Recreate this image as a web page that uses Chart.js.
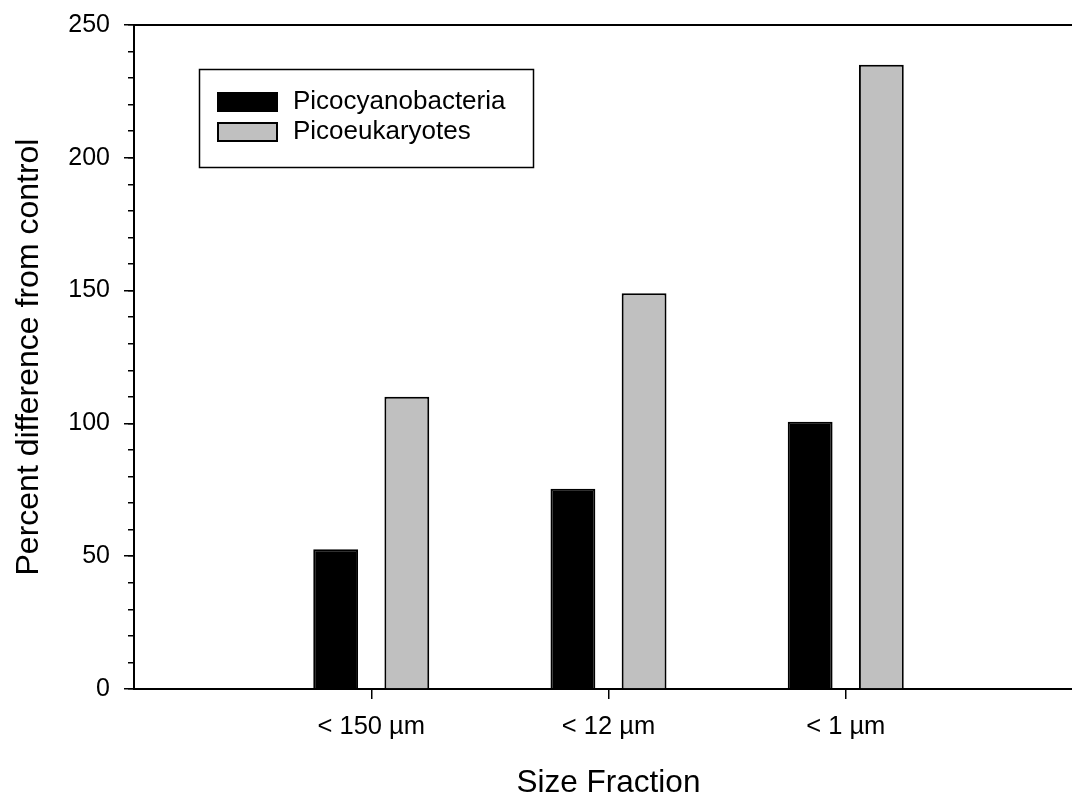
<!DOCTYPE html>
<html>
<head>
<meta charset="utf-8">
<script src="https://cdn.jsdelivr.net/npm/chart.js@4/dist/chart.umd.min.js"></script>
<style>
  html, body { margin: 0; padding: 0; background: #fff; overflow: hidden; }
  #wrap { width: 1100px; height: 796px; }
</style>
</head>
<body>
<div id="wrap"><canvas id="chart" width="1100" height="796"></canvas></div>
<script>
// Size fractions along the x axis
const sizeLabels = ['< 150 µm', '< 12 µm', '< 1 µm'];

// Percent difference from control for each group
const picocyanobacteria = [52.6, 75.4, 100.6];
const picoeukaryotes = [110, 149, 235];

const seriesNames = ['Picocyanobacteria', 'Picoeukaryotes'];

const FONT = "Arial, 'Liberation Sans', Helvetica, sans-serif";

// Category positions on the linear x axis (1, 2, 3, ...)
const toPoints = vals => vals.map((v, i) => ({ x: i + 1, y: v }));

// Boxed legend drawn inside the plot area
const boxedLegend = {
  id: 'boxedLegend',
  afterDraw(chart) {
    const { ctx, chartArea } = chart;
    const x0 = chartArea.left + 65;
    const y0 = chartArea.top + 44;
    ctx.save();
    ctx.strokeStyle = '#000';
    ctx.lineWidth = 1.5;
    ctx.strokeRect(x0 + 0.5, y0 + 0.5, 334, 98);
    chart.data.datasets.forEach((ds, i) => {
      const sy = y0 + 23 + i * 30;
      ctx.fillStyle = ds.backgroundColor;
      ctx.fillRect(x0 + 18, sy, 61, 20);
      ctx.lineWidth = 2;
      ctx.strokeStyle = '#000';
      ctx.strokeRect(x0 + 19, sy + 1, 59, 18);
      ctx.fillStyle = '#000';
      ctx.font = '26px ' + FONT;
      ctx.textBaseline = 'middle';
      ctx.textAlign = 'left';
      ctx.fillText(ds.label, x0 + 94, sy + 10);
    });
    ctx.restore();
  }
};

new Chart(document.getElementById('chart'), {
  type: 'bar',
  data: {
    datasets: [
      {
        label: seriesNames[0],
        data: toPoints(picocyanobacteria),
        backgroundColor: '#000000',
        borderColor: '#000000',
        borderWidth: 2,
        categoryPercentage: 0.6,
        barPercentage: 0.63
      },
      {
        label: seriesNames[1],
        data: toPoints(picoeukaryotes),
        backgroundColor: '#c0c0c0',
        borderColor: '#000000',
        borderWidth: 2,
        categoryPercentage: 0.6,
        barPercentage: 0.63
      }
    ]
  },
  options: {
    responsive: false,
    animation: false,
    devicePixelRatio: 1,
    layout: { padding: { left: 0, top: 25, right: 17, bottom: 0 } },
    plugins: {
      legend: { display: false },
      tooltip: { enabled: false }
    },
    scales: {
      x: {
        type: 'linear',
        position: 'bottom',
        min: 0,
        max: 4,
        offset: false,
        afterBuildTicks: s => { s.ticks = sizeLabels.map((_, i) => ({ value: i + 1 })); },
        afterFit: s => { s.height = 107; },
        grid: { offset: false, drawOnChartArea: false, color: '#000', lineWidth: 1.5, tickLength: 10 },
        border: { display: true, color: '#000', width: 2 },
        ticks: {
          color: '#000',
          font: { family: FONT, size: 25.5 },
          padding: 13,
          maxRotation: 0,
          autoSkip: false,
          callback: v => sizeLabels[v - 1] ?? ''
        },
        title: {
          display: true,
          text: 'Size Fraction',
          color: '#000',
          font: { family: FONT, size: 31.5, lineHeight: 0.8 },
          padding: { top: 0, bottom: 0 }
        }
      },
      xTop: {
        type: 'linear',
        position: 'top',
        min: 0,
        max: 4,
        offset: false,
        afterFit: s => { s.height = 0; },
        grid: { display: false },
        ticks: { display: false },
        border: { display: true, color: '#000', width: 2 }
      },
      y: {
        position: 'left',
        weight: 1,
        min: 0,
        max: 250,
        afterFit: s => { s.width = 134; },
        grid: { drawOnChartArea: false, color: '#000', lineWidth: 1.5, tickLength: 10 },
        border: { display: true, color: '#000', width: 2 },
        ticks: {
          stepSize: 50,
          color: '#000',
          font: { family: FONT, size: 25, lineHeight: 0.8 },
          padding: 14
        },
        title: {
          display: true,
          text: 'Percent difference from control',
          color: '#000',
          font: { family: FONT, size: 32, lineHeight: 0.8 },
          padding: { top: 16, bottom: 0 }
        }
      },
      yMinor: {
        position: 'left',
        weight: 0,
        min: 0,
        max: 250,
        afterFit: s => { s.width = 0; },
        grid: { drawOnChartArea: false, color: '#000', lineWidth: 1.5, tickLength: 6 },
        border: { display: false },
        ticks: { stepSize: 10, display: false }
      }
    }
  },
  plugins: [boxedLegend]
});
</script>
</body>
</html>
